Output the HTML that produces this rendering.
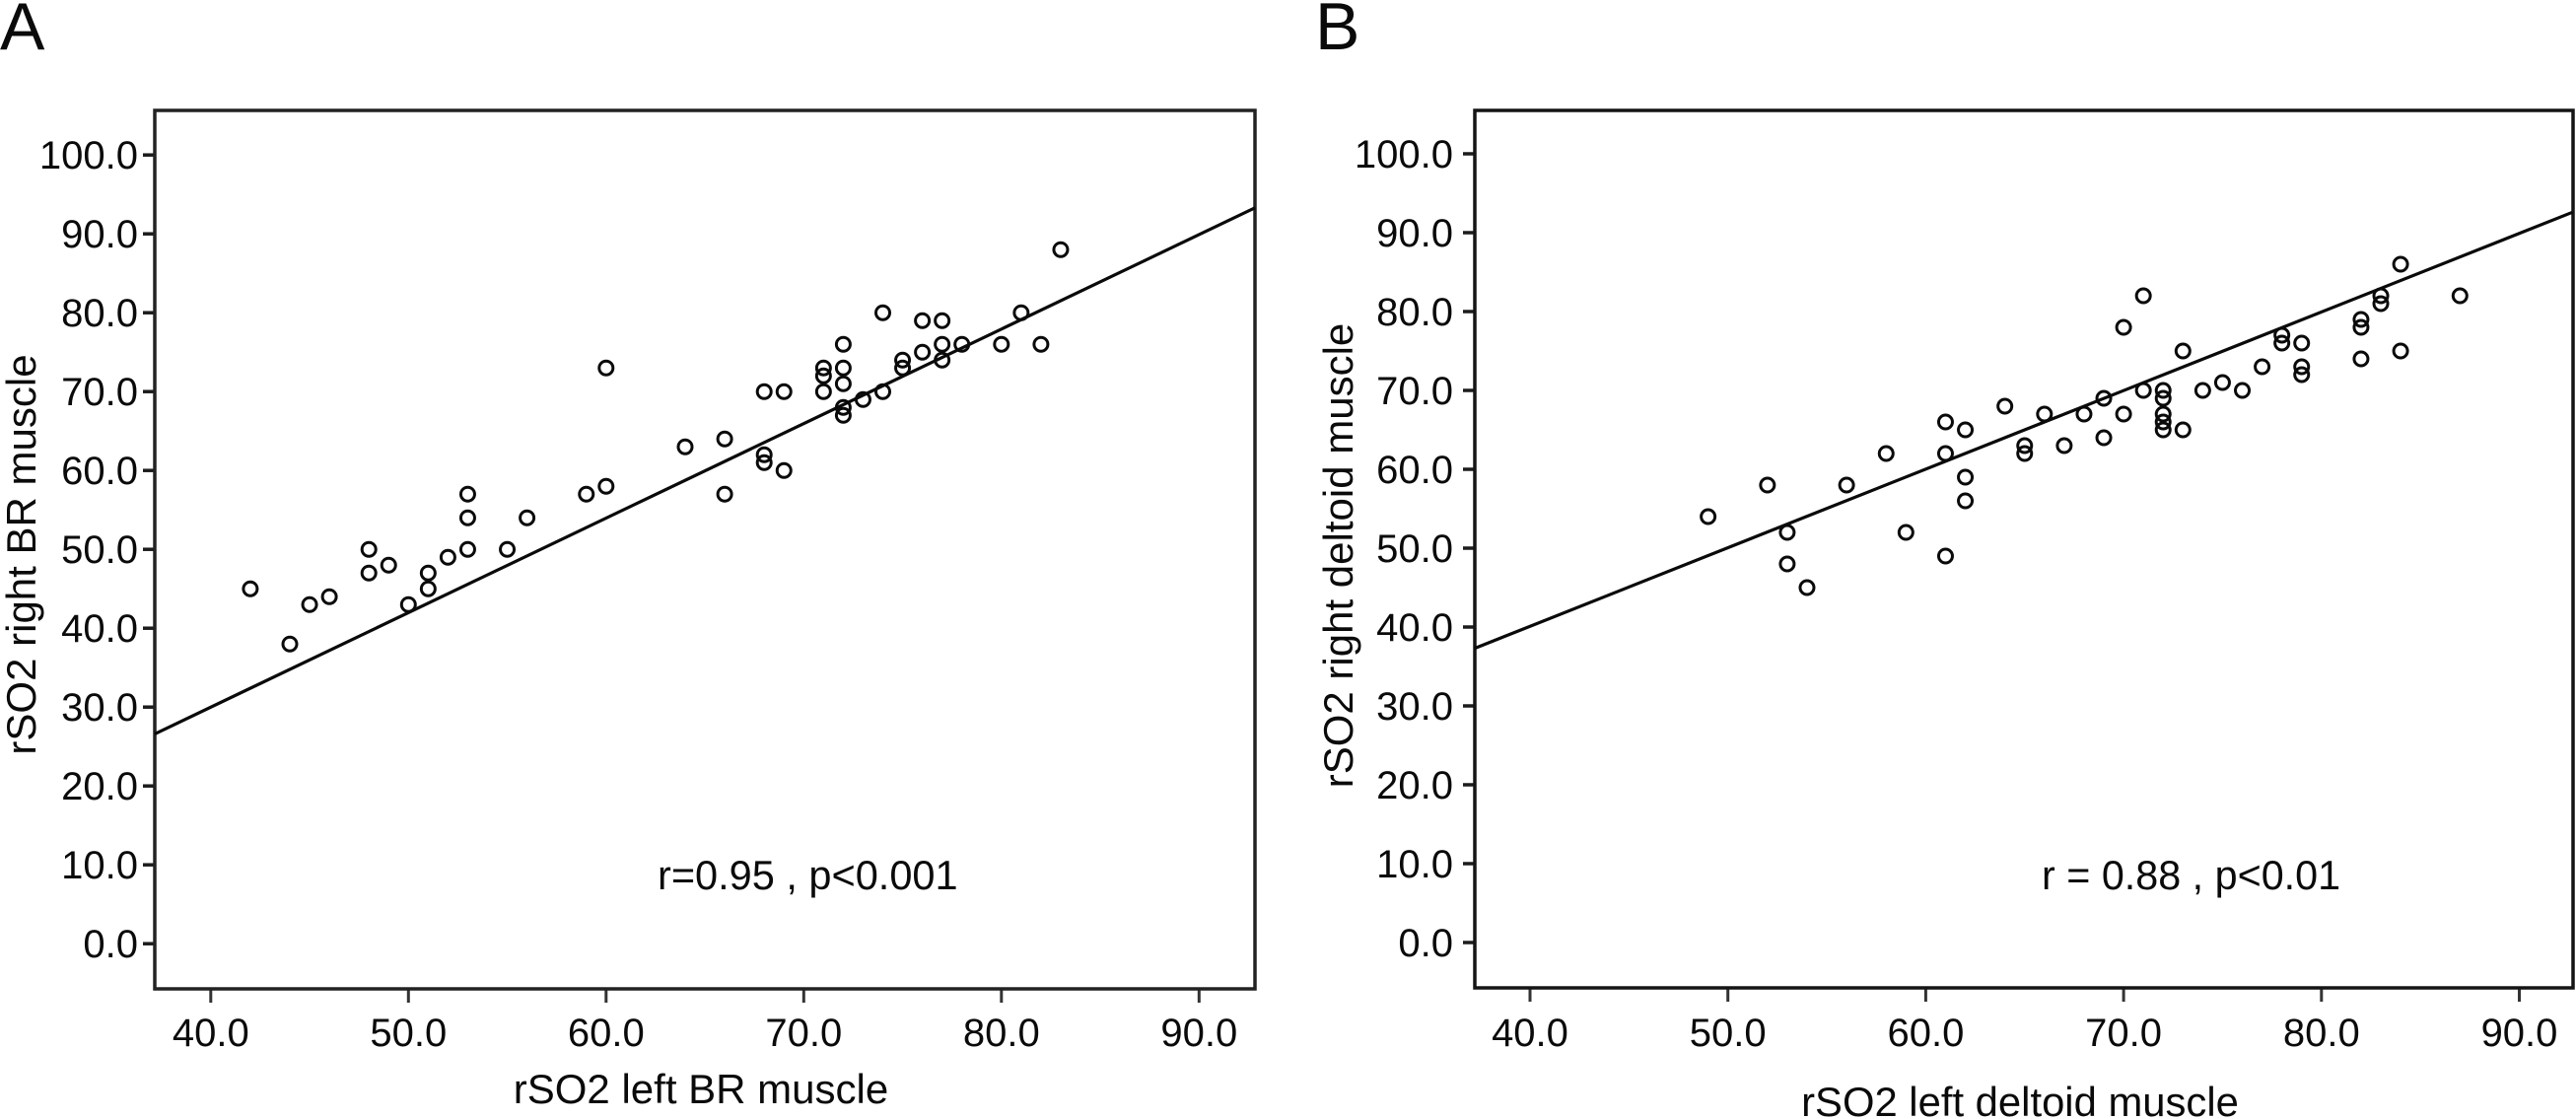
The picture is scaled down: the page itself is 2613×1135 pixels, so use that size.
<!DOCTYPE html>
<html lang="en">
<head>
<meta charset="utf-8">
<title>rSO2 left vs right correlation scatter plots</title>
<style>
html,body{margin:0;padding:0;background:#fff;}
svg{display:block;}
text{font-family:"Liberation Sans",sans-serif;fill:#0a0a0a;}
</style>
</head>
<body>
<svg id="chart" xmlns="http://www.w3.org/2000/svg" width="2613" height="1135" viewBox="0 0 2613 1135">
  <rect x="0" y="0" width="2613" height="1135" fill="#fff"/>
  <text x="0" y="50" font-size="68">A</text>
  <text x="1334" y="50" font-size="68">B</text>

  <g id="panel-a"></g>
  <g id="panel-b"></g>

  <text x="711" y="1119" font-size="42" text-anchor="middle">rSO2 left BR muscle</text>
  <text transform="translate(36,562.5) rotate(-90)" font-size="42" text-anchor="middle">rSO2 right BR muscle</text>
  <text x="667" y="902" font-size="41.5">r=0.95 , p&lt;0.001</text>

  <text x="2049" y="1132" font-size="41.8" text-anchor="middle">rSO2 left deltoid muscle</text>
  <text transform="translate(1372,563.5) rotate(-90)" font-size="42" text-anchor="middle">rSO2 right deltoid muscle</text>
  <text x="2071" y="902" font-size="41.3">r = 0.88 , p&lt;0.01</text>
</svg>
<script>
const xTickValues = [40, 50, 60, 70, 80, 90];
const yTickValues = [0, 10, 20, 30, 40, 50, 60, 70, 80, 90, 100];

const panelALeft  = [42,44,45,46,48,48,49,50,51,51,52,53,53,53,55,56,59,60,60,64,66,66,68,68,68,69,69,71,71,71,72,72,72,72,72,73,74,74,75,75,76,76,77,77,77,78,80,81,82,83];
const panelARight = [45,38,43,44,50,47,48,43,47,45,49,57,54,50,50,54,57,73,58,63,64,57,70,62,61,70,60,73,72,70,76,73,71,68,67,69,80,70,74,73,79,75,79,76,74,76,76,80,76,88];
const panelAFitLeft  = [37.17, 92.83];
const panelAFitRight = [26.6, 93.3];

const panelBLeft  = [49,52,53,53,54,56,58,59,61,61,61,62,62,62,64,65,65,66,67,68,69,69,70,70,71,71,72,72,72,72,72,73,73,74,75,76,77,78,78,79,79,79,82,82,82,83,83,84,84,87];
const panelBRight = [54,58,52,48,45,58,62,52,66,62,49,65,59,56,68,63,62,67,63,67,69,64,78,67,82,70,70,69,67,66,65,75,65,70,71,70,73,77,76,76,73,72,79,78,74,82,81,86,75,82];
const panelBFitLeft  = [37.2, 92.7];
const panelBFitRight = [37.3, 92.6];

const SVG_NS = 'http://www.w3.org/2000/svg';

function shape(tag, parent, attrs) {
  const el = document.createElementNS(SVG_NS, tag);
  for (const k in attrs) el.setAttribute(k, attrs[k]);
  parent.appendChild(el);
  return el;
}

function drawPanel(group, cfg, leftValues, rightValues, fitLeft, fitRight) {
  const xScale = v => cfg.x40 + (v - 40) * cfg.xPerUnit;
  const yScale = v => cfg.y0 - v * cfg.yPerUnit;

  for (const v of yTickValues) {
    const tick = shape('line', group, {x1: cfg.left - 12, x2: cfg.left, y1: yScale(v), y2: yScale(v), stroke: '#1c1c1c', 'stroke-width': 3.5});
    
    
    const label = shape('text', group, {x: cfg.yLabelRight, y: yScale(v) + 14, 'font-size': 40, 'text-anchor': 'end'});
    label.textContent = v.toFixed(1);
    
    
  }

  for (const v of xTickValues) {
    const tick = shape('line', group, {x1: xScale(v), x2: xScale(v), y1: cfg.bottom, y2: cfg.bottom + 14, stroke: '#333', 'stroke-width': 3});
    
    
    const label = shape('text', group, {x: xScale(v), y: 1061, 'font-size': 40, 'text-anchor': 'middle'});
    label.textContent = v.toFixed(1);
    
    
  }

  const frame = shape('rect', group, {x: cfg.left, y: cfg.top, width: cfg.right - cfg.left, height: cfg.bottom - cfg.top, fill: 'none', stroke: cfg.frameColor, 'stroke-width': cfg.frameWidth});
  
  

  const fit = shape('line', group, {x1: xScale(fitLeft[0]), y1: yScale(fitRight[0]), x2: xScale(fitLeft[1]), y2: yScale(fitRight[1]), stroke: '#0a0a0a', 'stroke-width': 3.2});
  
  

  leftValues.forEach((v, i) => {
    const point = shape('circle', group, {cx: xScale(v), cy: yScale(rightValues[i]), r: 7, fill: 'none', stroke: '#0a0a0a', 'stroke-width': 3});
    
    
  });
}

drawPanel(document.getElementById('panel-a'),
  {left: 157, right: 1273, top: 112, bottom: 1003, x40: 213.8, xPerUnit: 20.05, y0: 957.2, yPerUnit: 8, yLabelRight: 140, frameColor: '#222', frameWidth: 3.5},
  panelALeft, panelARight, panelAFitLeft, panelAFitRight);

drawPanel(document.getElementById('panel-b'),
  {left: 1496, right: 2610, top: 112, bottom: 1002, x40: 1552, xPerUnit: 20.07, y0: 956, yPerUnit: 8, yLabelRight: 1474, frameColor: '#141414', frameWidth: 3.5},
  panelBLeft, panelBRight, panelBFitLeft, panelBFitRight);
</script>
</body>
</html>
